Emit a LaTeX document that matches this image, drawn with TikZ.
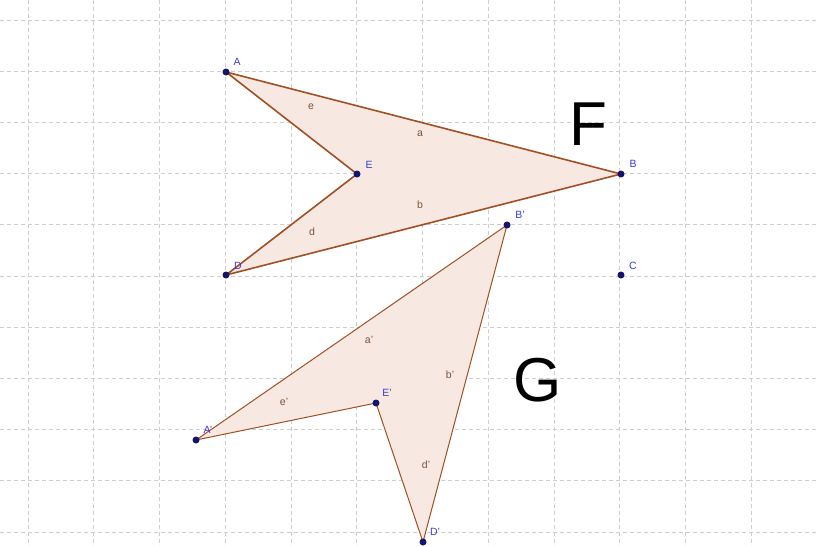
\documentclass[tikz,border=0pt]{standalone}
\usepackage{fontspec}
\setmainfont{Liberation Sans}
\definecolor{gridc}{RGB}{205,205,205}
\definecolor{edgec}{RGB}{160,80,35}
\definecolor{fillc}{RGB}{247,232,226}
\definecolor{dotc}{RGB}{20,20,110}
\definecolor{ptlab}{RGB}{60,60,215}
\definecolor{edlab}{RGB}{120,85,60}
\begin{document}
\begin{tikzpicture}[x=1pt,y=-1pt,
  gridline/.style={draw=gridc, dash pattern=on 4pt off 3pt, line width=0.8pt},
  polyF/.style={fill=fillc, draw=edgec, line width=1.6pt, line join=miter},
  polyG/.style={fill=fillc, draw=edgec, line width=1.0pt},
  ptdot/.style={circle, fill=dotc, inner sep=0pt, minimum size=7pt},
  ptname/.style={text=ptlab, font=\fontsize{10.5}{10.5}\selectfont, inner sep=0pt},
  edname/.style={text=edlab, font=\fontsize{10.5}{10.5}\selectfont, inner sep=0pt},
  bigname/.style={text=black, font=\fontsize{62}{62}\selectfont, inner sep=0pt}]
\useasboundingbox (0,0) rectangle (816,546);
\fill[white] (0,0) rectangle (816,546);
\foreach \i in {0,...,12} \draw[gridline] ({28+65.75*\i},0) -- ({28+65.75*\i},546);
\foreach \j in {0,...,10} \draw[gridline] (0,{20+51.2*\j}) -- (816,{20+51.2*\j});
% vertices
\coordinate (A) at (226,72);
\coordinate (E) at (357,174);
\coordinate (B) at (621,174);
\coordinate (D) at (226,275);
\coordinate (C) at (621,275);
\coordinate (B') at (507,225);
\coordinate (A') at (196,440);
\coordinate (E') at (376,403);
\coordinate (D') at (423,542);
% polygons
\filldraw[polyF] (A) -- (B) -- (D) -- (E) -- cycle;
\filldraw[polyG] (A') -- (B') -- (D') -- (E') -- cycle;
% edge labels
\node[edname] (la) at (420,134) {a};
\node[edname] (lb) at (420,205) {b};
\node[edname] (ld) at (312,232) {d};
\node[edname] (le) at (311,107) {e};
\node[edname] (la2) at (369,340) {a'};
\node[edname] (lb2) at (450,375) {b'};
\node[edname] (ld2) at (426,465) {d'};
\node[edname] (le2) at (284,402) {e'};
% points
\foreach \p in {A,E,B,D,C,B',A',E',D'} \node[ptdot] (dot\p) at (\p) {};
\node[ptname] (nA) at (237,62) {A};
\node[ptname] (nE) at (369,165) {E};
\node[ptname] (nB) at (633,164) {B};
\node[ptname] (nD) at (238,266) {D};
\node[ptname] (nC) at (633,266) {C};
\node[ptname] (nB2) at (520,215) {B'};
\node[ptname] (nA2) at (208,430) {A'};
\node[ptname] (nE2) at (387,393) {E'};
\node[ptname] (nD2) at (435,532) {D'};
% big labels
\node[bigname] (F) at (588,124) {F};
\node[bigname] (G) at (538,380) {G};
\end{tikzpicture}
\end{document}
